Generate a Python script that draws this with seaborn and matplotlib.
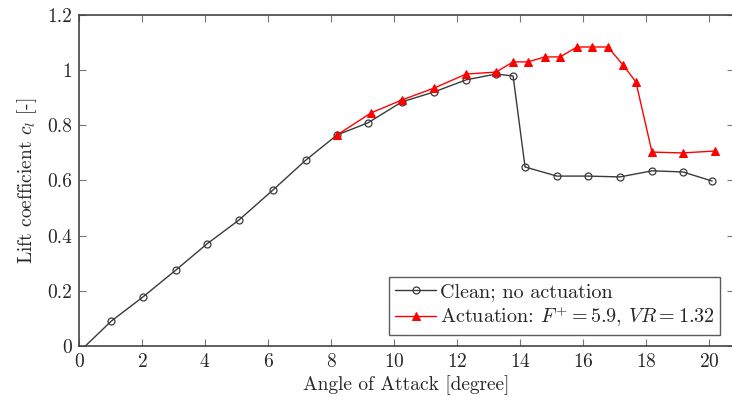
import matplotlib
matplotlib.use("Agg")
import matplotlib.pyplot as plt
import seaborn as sns
import pandas as pd

# clean airfoil, no actuation
clean_aoa = [0.2, 1.02, 2.03, 3.08, 4.06, 5.08, 6.16, 7.2, 8.19, 9.17, 10.25, 11.27,
             12.29, 13.24, 13.78, 14.16, 15.17, 16.16, 17.17, 18.19, 19.17, 20.1]
clean_cl = [0.0, 0.09, 0.178, 0.276, 0.37, 0.457, 0.566, 0.674, 0.765, 0.809, 0.885, 0.921,
            0.965, 0.986, 0.979, 0.649, 0.616, 0.616, 0.613, 0.635, 0.631, 0.598]

# with actuation
act_aoa = [8.19, 9.27, 10.25, 11.27, 12.29, 13.24, 13.78, 14.25, 14.79, 15.27, 15.81,
           16.29, 16.79, 17.27, 17.68, 18.19, 19.17, 20.19]
act_cl = [0.765, 0.845, 0.892, 0.935, 0.986, 0.993, 1.03, 1.03, 1.048, 1.048, 1.084,
          1.084, 1.084, 1.019, 0.957, 0.703, 0.70, 0.707]

sns.set_style("ticks")
plt.rcParams["font.family"] = ["cmr10", "DejaVu Serif"]
plt.rcParams["mathtext.fontset"] = "cm"
plt.rcParams["axes.formatter.use_mathtext"] = True
plt.rcParams["font.size"] = 14

clean = pd.DataFrame({"aoa": clean_aoa, "cl": clean_cl})
act = pd.DataFrame({"aoa": act_aoa, "cl": act_cl})

fig = plt.figure(figsize=(7.32, 4.0), dpi=100)
# right spine falls just outside the picture, as in the cropped original
ax = fig.add_axes([0.108, 0.135, 0.895, 0.8275])

sns.lineplot(data=clean, x="aoa", y="cl", ax=ax, color="#3a3a3a", lw=1.0,
             marker="o", markersize=5, markerfacecolor="none", markeredgecolor="#3a3a3a",
             markeredgewidth=0.9, markevery=list(range(1, len(clean_aoa))),
             label="Clean; no actuation")
sns.lineplot(data=act, x="aoa", y="cl", ax=ax, color="red", lw=1.0,
             marker="^", markersize=5.5, markerfacecolor="red", markeredgecolor="red",
             label=r"Actuation: $F^{+} = 5.9$, $VR = 1.32$")

ax.set_xlim(0, 20.8)
ax.set_ylim(0, 1.2)
ax.set_xticks(range(0, 21, 2))
ax.set_yticks([0, 0.2, 0.4, 0.6, 0.8, 1.0, 1.2])
ax.set_yticklabels(["0", "0.2", "0.4", "0.6", "0.8", "1", "1.2"])
ax.tick_params(direction="in", top=True, right=True, length=5, width=0.8,
               color="#777777", labelsize=14, pad=5)
for s in ax.spines.values():
    s.set_linewidth(1.2)
    s.set_color("#444444")

ax.set_xlabel("Angle of Attack [degree]", fontsize=14, labelpad=3)
ax.set_ylabel(r"Lift coefficient $c_l$ [-]", fontsize=14, labelpad=6)

leg = ax.legend(loc="lower right", bbox_to_anchor=(0.979, 0.033), borderaxespad=0,
                fontsize=14.5, frameon=True, fancybox=False,
                edgecolor="#333333", handlelength=2.0, handletextpad=0.2,
                borderpad=0.3, labelspacing=0.15)
leg.get_frame().set_linewidth(1.0)

fig.savefig("out.png", dpi=100)
